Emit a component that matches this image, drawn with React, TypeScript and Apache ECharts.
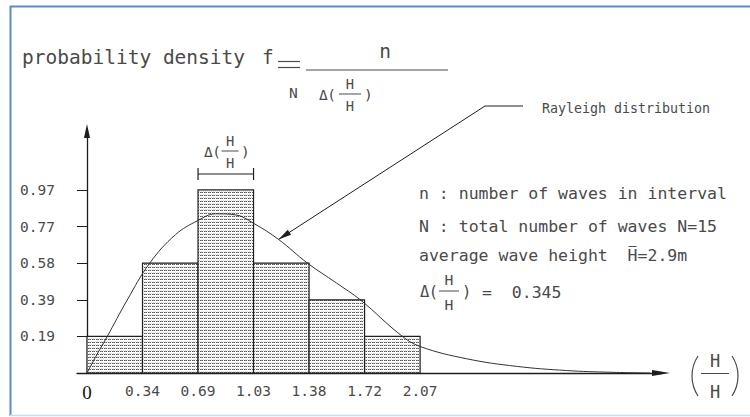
import React, { useEffect, useRef } from "react";
import * as echarts from "echarts";

// Histogram bins (H / H-mean) and the measured probability density per bin
const binEdges = [0, 0.345, 0.69, 1.035, 1.38, 1.725, 2.07];
const waveCounts = [1, 3, 5, 3, 2, 1];
const binDensity = [0.193, 0.58, 0.966, 0.58, 0.386, 0.193];

// Axis ticks
const xTickValues = [0, 0.345, 0.69, 1.035, 1.38, 1.725, 2.07];
const xTickLabels = ["0", "0.34", "0.69", "1.03", "1.38", "1.72", "2.07"];
const yTickValues = [0.193, 0.386, 0.58, 0.773, 0.966];
const yTickLabels = ["0.19", "0.39", "0.58", "0.77", "0.97"];

// Rayleigh distribution curve
const rayleighX = [0, 0.06, 0.124, 0.25, 0.39, 0.55, 0.69, 0.8, 0.92, 1.035, 1.19, 1.37, 1.55, 1.7, 1.95, 2.07, 2.36, 2.67, 2.98, 3.25, 3.5];
const rayleighY = [0, 0.095, 0.19, 0.385, 0.58, 0.73, 0.805, 0.84, 0.835, 0.79, 0.705, 0.58, 0.475, 0.385, 0.2, 0.14, 0.075, 0.035, 0.013, 0.004, 0];

const legendLines = [
  "n : number of waves in interval",
  "N : total number of waves N=15",
  "average wave height  H=2.9m",
];
const deltaValue = "0.345";

const MONO = '"DejaVu Sans Mono", monospace';
const INK = "#4a4a4a";
const LINE = "#1e1e1e";

function makeStipple(): HTMLCanvasElement {
  const c = document.createElement("canvas");
  c.width = 4;
  c.height = 3;
  const g = c.getContext("2d")!;
  g.fillStyle = "#ffffff";
  g.fillRect(0, 0, 4, 3);
  g.fillStyle = "#555555";
  g.fillRect(0, 0, 1, 1);
  g.fillRect(2, 0, 1, 1);
  g.fillStyle = "#999999";
  g.fillRect(1, 0, 1, 1);
  g.fillStyle = "#dddddd";
  g.fillRect(3, 2, 1, 1);
  g.fillRect(1, 2, 1, 1);
  return c;
}

function txt(text: string, x: number, y: number, size: number, opts: any = {}) {
  return {
    type: "text",
    silent: true,
    style: {
      text,
      x,
      y,
      font: `${size}px ${opts.family || MONO}`,
      fill: opts.fill || INK,
      textAlign: opts.align || "left",
      textVerticalAlign: opts.valign || "middle",
    },
  };
}

function seg(x1: number, y1: number, x2: number, y2: number, w = 1, color = LINE) {
  return {
    type: "line",
    silent: true,
    shape: { x1, y1, x2, y2 },
    style: { stroke: color, lineWidth: w },
  };
}

// Δ(H / H̄) symbol; (x, y) = left of Δ, at the fraction bar.
// hc = centre of the H's, lw = fraction bar length, pr = right bracket offset
function deltaFrac(x: number, y: number, fs: number, hc: number, lw: number, pr: number) {
  const cw = fs * 0.602;
  return [
    txt("Δ", x, y + 1, fs),
    txt("(", x + cw * 0.95, y + 1, fs),
    txt("H", x + hc, y - fs * 0.72, fs * 0.95, { align: "center" }),
    seg(x + hc - lw / 2, y, x + hc + lw / 2, y, 1, INK),
    txt("H", x + hc, y + fs * 0.86, fs * 0.95, { align: "center" }),
    txt(")", x + pr, y + 1, fs),
  ];
}

export default function App() {
  const ref = useRef<HTMLDivElement>(null);

  useEffect(() => {
    const el = ref.current;
    if (!el) return;
    const chart = echarts.init(el, null, { renderer: "svg" });
    const stipple = makeStipple();

    const barData = binDensity.map((d, i) => [binEdges[i], binEdges[i + 1], d, waveCounts[i]]);
    const curveData = rayleighX.map((x, i) => [x, rayleighY[i]]);

    const option: any = {
      animation: false,
      backgroundColor: "#ffffff",
      grid: { left: 77, top: 131, width: 584, height: 242, containLabel: false, outerBoundsMode: "none" },
      xAxis: {
        type: "value",
        min: -0.0621,
        max: 3.567,
        splitLine: { show: false },
        axisTick: { show: false },
        axisLine: {
          show: true,
          onZero: true,
          symbol: ["none", "triangle"],
          symbolSize: [6, 18],
          lineStyle: { color: LINE, width: 1.3 },
        },
        axisLabel: {
          customValues: xTickValues,
          margin: 10,
          color: INK,
          fontFamily: MONO,
          fontSize: 14.5,
          formatter: (v: number) => {
            const i = xTickValues.findIndex((t) => Math.abs(t - v) < 1e-6);
            if (i < 0) return "";
            return i === 0 ? `{z|${xTickLabels[i]}}` : xTickLabels[i];
          },
          rich: {
            z: { fontFamily: '"Liberation Serif", serif', fontSize: 19, color: "#111" },
          },
        },
      },
      yAxis: {
        type: "value",
        min: 0,
        max: 1.277,
        splitLine: { show: false },
        axisLine: {
          show: true,
          onZero: true,
          symbol: ["none", "triangle"],
          symbolSize: [6, 14],
          lineStyle: { color: LINE, width: 1.3 },
        },
        axisTick: {
          show: true,
          customValues: yTickValues,
          length: 10,
          lineStyle: { color: LINE, width: 1 },
        },
        axisLabel: {
          customValues: yTickValues,
          margin: 22,
          color: INK,
          fontFamily: MONO,
          fontSize: 14.5,
          formatter: (v: number) => {
            const i = yTickValues.findIndex((t) => Math.abs(t - v) < 1e-6);
            return i < 0 ? "" : yTickLabels[i];
          },
        },
      },
      series: [
        {
          type: "custom",
          name: "histogram",
          data: barData,
          encode: { x: [0, 1], y: 2 },
          renderItem: (params: any, api: any) => {
            const p0 = api.coord([api.value(0), api.value(2)]);
            const p1 = api.coord([api.value(1), 0]);
            return {
              type: "rect",
              shape: { x: p0[0], y: p0[1], width: p1[0] - p0[0], height: p1[1] - p0[1] },
              style: {
                fill: { image: stipple, repeat: "repeat", imageWidth: 4, imageHeight: 3 },
                stroke: LINE,
                lineWidth: 1.2,
              },
            };
          },
          z: 2,
        },
        {
          type: "line",
          name: "Rayleigh distribution",
          data: curveData,
          smooth: 0.4,
          showSymbol: false,
          lineStyle: { color: "#333", width: 1 },
          z: 3,
        },
      ],
    };
    chart.setOption(option);

    const px = (x: number, y: number) => chart.convertToPixel({ gridIndex: 0 }, [x, y]) as number[];

    const g: any[] = [];
    // frame
    g.push(seg(10, 6.5, 750, 6.5, 2, "#5b8bc9"));
    g.push(seg(10.5, 6, 10.5, 416, 2, "#5b8bc9"));
    g.push(seg(10, 415.5, 750, 415.5, 1.5, "#c9dbef"));

    // title: probability density f = n / (N Δ(H/H̄))
    g.push(txt("probability density", 22, 57, 19.5));
    g.push(txt("f", 262, 57, 19.5));
    g.push(seg(278, 61.5, 300, 61.5, 1.2, INK));
    g.push(seg(278, 67.5, 300, 67.5, 1.2, INK));
    g.push(seg(306, 70, 448, 70, 1, INK));
    g.push(txt("n", 385, 51, 19.5, { align: "center" }));
    g.push(txt("N", 289, 93, 14.5));
    g.push(...deltaFrac(319, 94, 14.5, 31, 22, 45));

    // Δ(H/H̄) dimension over the tallest bin
    const a = px(binEdges[2], 0);
    const b = px(binEdges[3], 0);
    const yDim = 174;
    g.push(seg(a[0], yDim, b[0], yDim, 1.2));
    g.push(seg(a[0], yDim - 6, a[0], yDim + 6, 1.2));
    g.push(seg(b[0], yDim - 6, b[0], yDim + 6, 1.2));
    g.push(...deltaFrac(a[0] + 6, 151, 14.5, 26, 17, 37));

    // legend text
    const fsL = 16.5;
    const cw = fsL * 0.602;
    g.push(txt(legendLines[0], 419, 193, fsL));
    g.push(txt(legendLines[1], 419, 226, fsL));
    g.push(txt(legendLines[2], 419, 255, fsL));
    const hIdx = legendLines[2].indexOf("H");
    g.push(seg(419 + hIdx * cw + 1, 246.5, 419 + (hIdx + 1) * cw - 1, 246.5, 1, INK));
    g.push(...deltaFrac(420, 291, 15.5, 29, 20, 42));
    g.push(txt("=  " + deltaValue, 482, 292, fsL));

    // Rayleigh label with leader arrow pointing at the curve
    g.push(txt("Rayleigh distribution", 542, 108, 13.3));
    const tipIdx = rayleighX.indexOf(1.19);
    const tip = px(rayleighX[tipIdx], rayleighY[tipIdx]);
    const kink = [485, 106];
    g.push({
      type: "polyline",
      silent: true,
      shape: { points: [[523, 106], kink, tip] },
      style: { stroke: LINE, lineWidth: 1, fill: null },
    });
    const dx = tip[0] - kink[0];
    const dy = tip[1] - kink[1];
    const len = Math.hypot(dx, dy);
    const ux = dx / len;
    const uy = dy / len;
    const L = 13;
    const W = 3;
    const bx = tip[0] - ux * L;
    const by = tip[1] - uy * L;
    g.push({
      type: "polygon",
      silent: true,
      shape: { points: [tip, [bx - uy * W, by + ux * W], [bx + uy * W, by - ux * W]] },
      style: { fill: LINE },
    });

    // x-axis name (H / H̄) with tall brackets
    g.push(txt("H", 715, 361, 17, { align: "center" }));
    g.push(seg(701, 373.5, 729, 373.5, 1, INK));
    g.push(txt("H", 715, 392, 17, { align: "center" }));
    const r = 36.3;
    const al = 0.583;
    g.push({
      type: "arc",
      silent: true,
      shape: { cx: 692 + r, cy: 376, r, startAngle: Math.PI - al, endAngle: Math.PI + al },
      style: { stroke: INK, lineWidth: 1.2, fill: null },
    });
    g.push({
      type: "arc",
      silent: true,
      shape: { cx: 738 - r, cy: 376, r, startAngle: -al, endAngle: al },
      style: { stroke: INK, lineWidth: 1.2, fill: null },
    });

    chart.setOption({ graphic: { elements: g } });

    return () => chart.dispose();
  }, []);

  return (
    <div
      ref={ref}
      style={{ position: "fixed", left: 0, top: 0, width: 750, height: 417, background: "#ffffff" }}
    />
  );
}
